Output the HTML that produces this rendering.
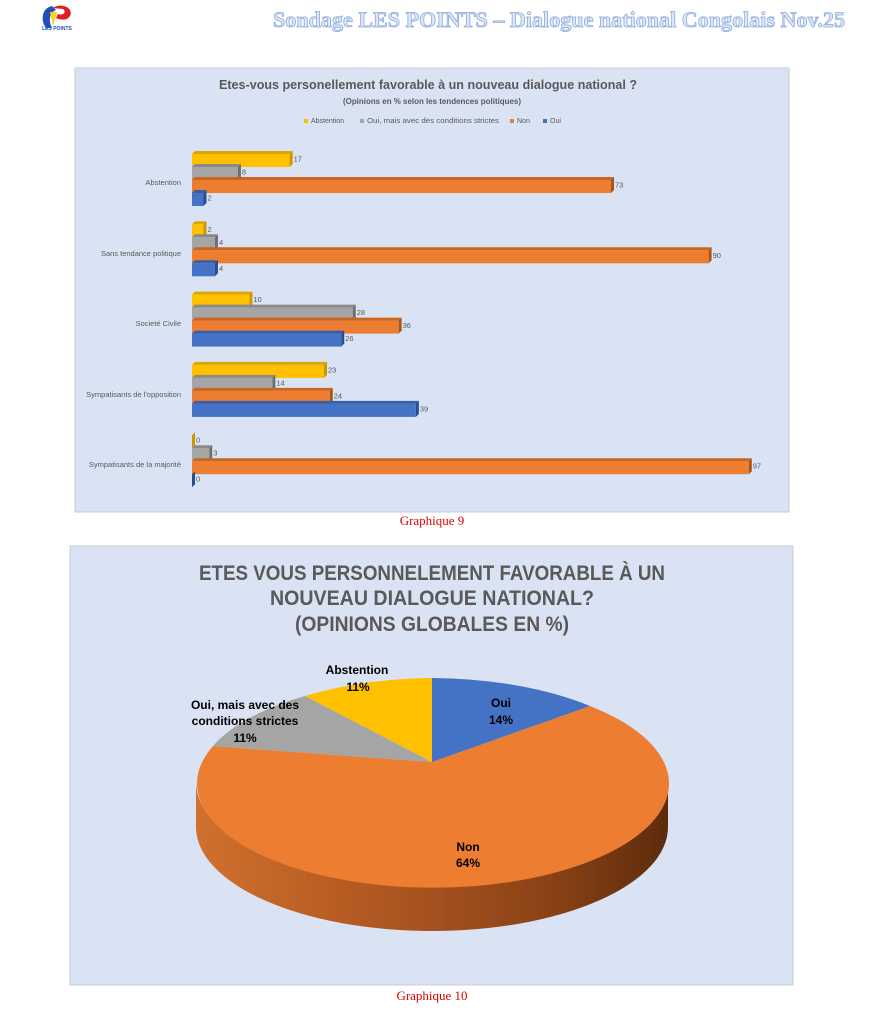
<!DOCTYPE html>
<html><head><meta charset="utf-8"><style>
html,body{margin:0;padding:0;background:#fff;width:896px;height:1024px;overflow:hidden}
svg{display:block}
</style></head><body>
<svg width="896" height="1024" viewBox="0 0 896 1024" xmlns="http://www.w3.org/2000/svg" font-family="Liberation Sans, sans-serif">
<defs>
<linearGradient id="side" x1="0" x2="1" y1="0" y2="0">
<stop offset="0" stop-color="#d0702e"/><stop offset="0.35" stop-color="#b35a22"/><stop offset="0.75" stop-color="#8a4216"/><stop offset="1" stop-color="#5e2c0c"/>
</linearGradient>
</defs>
<path d="M52,6 C42,8 40,20 46,28 L52,28 C48,20 50,12 56,10 Z" fill="#1f4fb8"/>
<path d="M52,8 C62,2 74,8 70,16 C67,21 60,20 56,18 L58,14 C63,16 67,12 63,9 Z" fill="#e02020"/>
<path d="M50,12 L57,12 L53,26 Z" fill="#ffd21c"/>
<text x="57" y="30" font-size="5" font-weight="bold" fill="#1f4fb8" text-anchor="middle">LES POINTS</text>
<text x="845" y="27" text-anchor="end" textLength="572" lengthAdjust="spacingAndGlyphs" font-family="Liberation Serif, serif" font-weight="bold" font-size="22" fill="#dce8f7" stroke="#8eaadb" stroke-width="0.8">Sondage LES POINTS – Dialogue national Congolais  Nov.25</text>

<rect x="75" y="68" width="714" height="444" fill="#dae3f3" stroke="#c9cdd3"/>
<text x="428" y="89" text-anchor="middle" textLength="418" lengthAdjust="spacingAndGlyphs" font-size="13" font-weight="bold" fill="#595959">Etes-vous personellement favorable à un nouveau dialogue national ?</text>
<text x="432" y="104" text-anchor="middle" textLength="178" lengthAdjust="spacingAndGlyphs" font-size="8.5" font-weight="bold" fill="#595959">(Opinions en % selon les tendences politiques)</text>
<g font-size="7" fill="#595959">
<rect x="304" y="119" width="4" height="4" fill="#ffc000"/><text x="311" y="123">Abstention</text>
<rect x="360" y="119" width="4" height="4" fill="#a5a5a5"/><text x="367" y="123" textLength="132" lengthAdjust="spacingAndGlyphs">Oui, mais avec des conditions strictes</text>
<rect x="510" y="119" width="4" height="4" fill="#ed7d31"/><text x="517" y="123">Non</text>
<rect x="543" y="119" width="4" height="4" fill="#4472c4"/><text x="550" y="123">Oui</text>
</g>
<g id="bars"></g>
<g font-size="7.5" fill="#595959" text-anchor="end">
<text x="181" y="185">Abstention</text>
<text x="181" y="256">Sans tendance politique</text>
<text x="181" y="326">Societé Civile</text>
<text x="181" y="397">Sympatisants de l'opposition</text>
<text x="181" y="467">Sympatisants de la majorité</text>
</g>
<text x="432" y="525" text-anchor="middle" font-family="Liberation Serif, serif" font-size="13" fill="#e00000">Graphique 9</text>

<rect x="70" y="546" width="723" height="439" fill="#dae3f3" stroke="#c9cdd3"/>
<g font-size="21" font-weight="bold" fill="#595959" text-anchor="middle" lengthAdjust="spacingAndGlyphs">
<text x="432" y="580" textLength="466" lengthAdjust="spacingAndGlyphs">ETES VOUS PERSONNELEMENT FAVORABLE À UN</text>
<text x="432" y="605" textLength="324" lengthAdjust="spacingAndGlyphs">NOUVEAU DIALOGUE NATIONAL?</text>
<text x="432" y="631" textLength="274" lengthAdjust="spacingAndGlyphs">(OPINIONS GLOBALES EN %)</text>
</g>
<path d="M196,782 A236,104 0 0 0 668,782 L668,827 A236,104 0 0 1 196,827 Z" fill="url(#side)"/>
<path d="M432,762 L590,706 A236,104 0 1 1 213,746 Z" fill="#ed7d31"/>
<path d="M432,762 L432,678 A236,104 0 0 1 590,706 Z" fill="#4472c4"/>
<path d="M432,762 L213,746 A236,104 0 0 1 305,696 Z" fill="#a5a5a5"/>
<path d="M432,762 L305,696 A236,104 0 0 1 432,678 Z" fill="#ffc000"/>
<g font-size="12" font-weight="bold" fill="#000" text-anchor="middle">
<text x="357" y="674">Abstention</text><text x="358" y="691">11%</text>
<text x="245" y="709">Oui, mais avec des</text><text x="245" y="725">conditions strictes</text><text x="245" y="742">11%</text>
<text x="501" y="707">Oui</text><text x="501" y="724">14%</text>
<text x="468" y="851">Non</text><text x="468" y="867">64%</text>
</g>
<text x="432" y="1000" text-anchor="middle" font-family="Liberation Serif, serif" font-size="13" fill="#e00000">Graphique 10</text>
</svg>
<script>
var data=[[17,8,73,2],[2,4,90,4],[10,28,36,26],[23,14,24,39],[0,3,97,0]];
var cols=[["#ffc000","#c99700","#dca600"],["#a5a5a5","#6e6e6e","#8a8a8a"],["#ed7d31","#a8531a","#c9651f"],["#4472c4","#2a4d8f","#365fa8"]];
var g=document.getElementById("bars"),s="",x0=192,k=5.74,h=13;
data.forEach(function(r,i){r.forEach(function(v,j){
var y=154+i*70.3+j*h,w=v*k,c=cols[j];
s+='<polygon points="'+x0+','+y+' '+(x0+3)+','+(y-3)+' '+(x0+w+3)+','+(y-3)+' '+(x0+w)+','+y+'" fill="'+c[2]+'"/>';
s+='<polygon points="'+(x0+w)+','+y+' '+(x0+w+3)+','+(y-3)+' '+(x0+w+3)+','+(y+h-3)+' '+(x0+w)+','+(y+h)+'" fill="'+c[1]+'"/>';
s+='<rect x="'+x0+'" y="'+y+'" width="'+w+'" height="'+h+'" fill="'+c[0]+'"/>';
s+='<text x="'+(x0+w+4)+'" y="'+(y+h/2+1)+'" font-size="7.5" fill="#595959">'+v+'</text>';
});});
g.innerHTML=s;
</script>
</body></html>
